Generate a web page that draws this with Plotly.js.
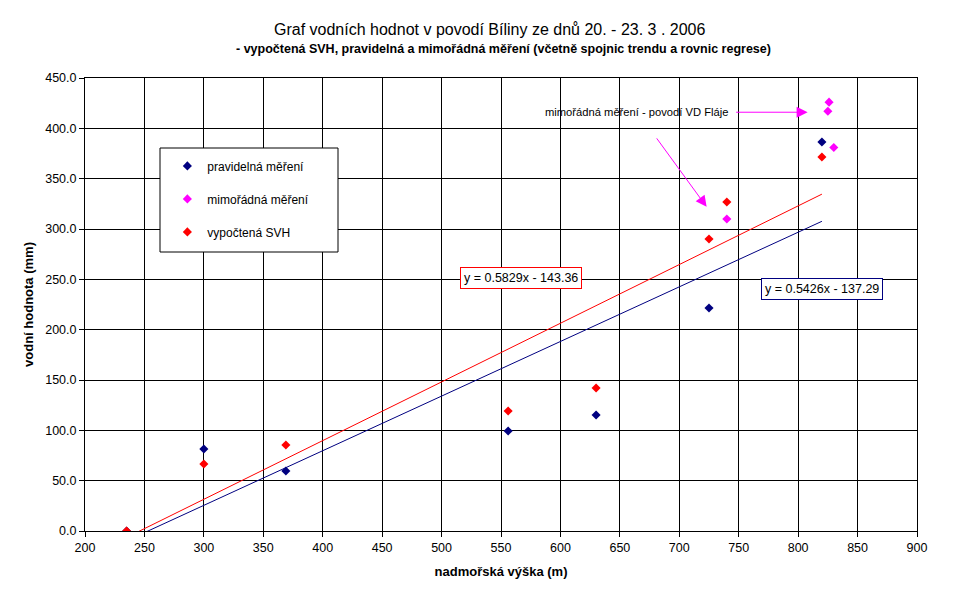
<!DOCTYPE html>
<html>
<head>
<meta charset="utf-8">
<script src="https://cdn.plot.ly/plotly-3.0.1.min.js"></script>
<style>html,body{margin:0;padding:0;background:#fff;}#chart{width:970px;height:602px;}</style>
</head>
<body>
<div id="chart"></div>
<script>
// Data
const pravidelnaX = [235, 300, 369, 556, 630, 725, 820];
const pravidelnaY = [0, 81.5, 59.6, 99.3, 115.2, 221.5, 386.4];

const mimoradnaX = [740, 826, 825, 830];
const mimoradnaY = [310, 426, 417, 381];

const svhX = [235, 300, 369, 556, 630, 725, 740, 820];
const svhY = [0, 66.5, 85.4, 119.2, 142, 290, 326.8, 371.5];

// Regression coefficients shown in the chart
const trendPravidelna = {slope: 0.5426, intercept: -137.29, label: 'y = 0.5426x - 137.29'};
const trendSvh = {slope: 0.5829, intercept: -143.36, label: 'y = 0.5829x - 143.36'};

const xTicks = [200, 250, 300, 350, 400, 450, 500, 550, 600, 650, 700, 750, 800, 850, 900];
const yTicks = [0, 50, 100, 150, 200, 250, 300, 350, 400, 450];

const FONT = '"Liberation Sans", Arial, sans-serif';

function trendLine(xs, t) {
  const x0 = Math.min(...xs), x1 = Math.max(...xs);
  return {x: [x0, x1], y: [t.slope * x0 + t.intercept, t.slope * x1 + t.intercept]};
}
const tp = trendLine(pravidelnaX, trendPravidelna);
const ts = trendLine(svhX, trendSvh);

const diamond = (c) => ({symbol: 'diamond', size: 7, color: c});

const traces = [
  {x: tp.x, y: tp.y, mode: 'lines', line: {color: '#000080', width: 1}, showlegend: false, hoverinfo: 'skip'},
  {x: ts.x, y: ts.y, mode: 'lines', line: {color: '#FF0000', width: 1}, showlegend: false, hoverinfo: 'skip'},
  {x: pravidelnaX, y: pravidelnaY, mode: 'markers', name: 'pravidelná měření', marker: diamond('#000080'), legendgroup: 'a'},
  {x: mimoradnaX, y: mimoradnaY, mode: 'markers', name: 'mimořádná měření', marker: diamond('#FF00FF'), legendgroup: 'b'},
  {x: svhX, y: svhY, mode: 'markers', name: 'vypočtená SVH', marker: diamond('#FF0000'), legendgroup: 'c'}
];

const layout = {
  width: 970, height: 602,
  margin: {l: 85, r: 53, t: 78, b: 71},
  paper_bgcolor: '#fff', plot_bgcolor: '#fff',
  font: {family: FONT, size: 12, color: '#000'},
  showlegend: true,
  legend: {
    x: 0.099, y: 0.838, xanchor: 'left', yanchor: 'top',
    bgcolor: 'rgba(0,0,0,0)', borderwidth: 0,
    font: {family: FONT, size: 12, color: '#000'},
    tracegroupgap: 14, traceorder: 'grouped'
  },
  xaxis: {
    range: [200, 900], tickvals: xTicks, ticktext: xTicks.map(String),
    showgrid: true, gridcolor: '#000', gridwidth: 1,
    showline: true, linecolor: '#000', linewidth: 1, mirror: true,
    ticks: 'outside', ticklen: 5, tickcolor: '#000', zeroline: false,
    tickfont: {family: FONT, size: 12.5},
    title: {text: '<b>nadmořská výška (m)</b>', font: {family: FONT, size: 13}, standoff: 12}
  },
  yaxis: {
    range: [0, 450], tickvals: yTicks, ticktext: yTicks.map(v => v.toFixed(1)),
    showgrid: true, gridcolor: '#000', gridwidth: 1,
    showline: true, linecolor: '#000', linewidth: 1, mirror: true,
    ticks: 'outside', ticklen: 5, tickcolor: '#000', zeroline: false,
    tickfont: {family: FONT, size: 12.5},
    title: {text: '<b>vodní hodnota (mm)</b>', font: {family: FONT, size: 13}, standoff: 8}
  },
  shapes: [
    {type: 'rect', xref: 'paper', yref: 'paper',
     x0: (160 - 85) / 832, x1: (338 - 85) / 832, y0: (531 - 252) / 453, y1: (531 - 148) / 453,
     line: {color: '#000', width: 1}, fillcolor: '#fff', layer: 'above'}
  ],
  annotations: [
    {xref: 'paper', yref: 'paper', x: (489 - 85) / 832, y: (531 - 30) / 453, xanchor: 'center', yanchor: 'middle',
     text: 'Graf vodních hodnot v povodí Bíliny ze dnů 20. - 23. 3 . 2006', showarrow: false,
     font: {family: FONT, size: 16}},
    {xref: 'paper', yref: 'paper', x: (503 - 85) / 832, y: (531 - 49) / 453, xanchor: 'center', yanchor: 'middle',
     text: '<b>- vypočtená SVH, pravidelná a mimořádná měření (včetně spojnic trendu a rovnic regrese)</b>', showarrow: false,
     font: {family: FONT, size: 12.5}},
    {xref: 'x', yref: 'y', x: 200 + (543 - 85) / 1.1886, y: (531 - 112) / 1.0067, xanchor: 'left', yanchor: 'middle',
     text: 'mimořádná měření - povodí VD Fláje', showarrow: false, font: {family: FONT, size: 11.2}},
    {xref: 'x', yref: 'y', x: 808, y: 416, ax: -73, ay: 0, text: '', showarrow: true,
     arrowcolor: '#FF00FF', arrowwidth: 1, arrowhead: 2, arrowsize: 2.2},
    {xref: 'x', yref: 'y', x: 723, y: 322, ax: -51, ay: -70, text: '', showarrow: true,
     arrowcolor: '#FF00FF', arrowwidth: 1, arrowhead: 2, arrowsize: 2.2},
    {xref: 'x', yref: 'y', x: 567, y: 251.3, text: trendSvh.label, showarrow: false,
     bordercolor: '#FF0000', borderwidth: 1, borderpad: 3, bgcolor: '#fff', font: {family: FONT, size: 12.5}},
    {xref: 'x', yref: 'y', x: 820, y: 240.4, text: trendPravidelna.label, showarrow: false,
     bordercolor: '#000080', borderwidth: 1, borderpad: 3, bgcolor: '#fff', font: {family: FONT, size: 12.5}}
  ]
};

Plotly.newPlot('chart', traces, layout, {displayModeBar: false, staticPlot: true});
</script>
</body>
</html>
